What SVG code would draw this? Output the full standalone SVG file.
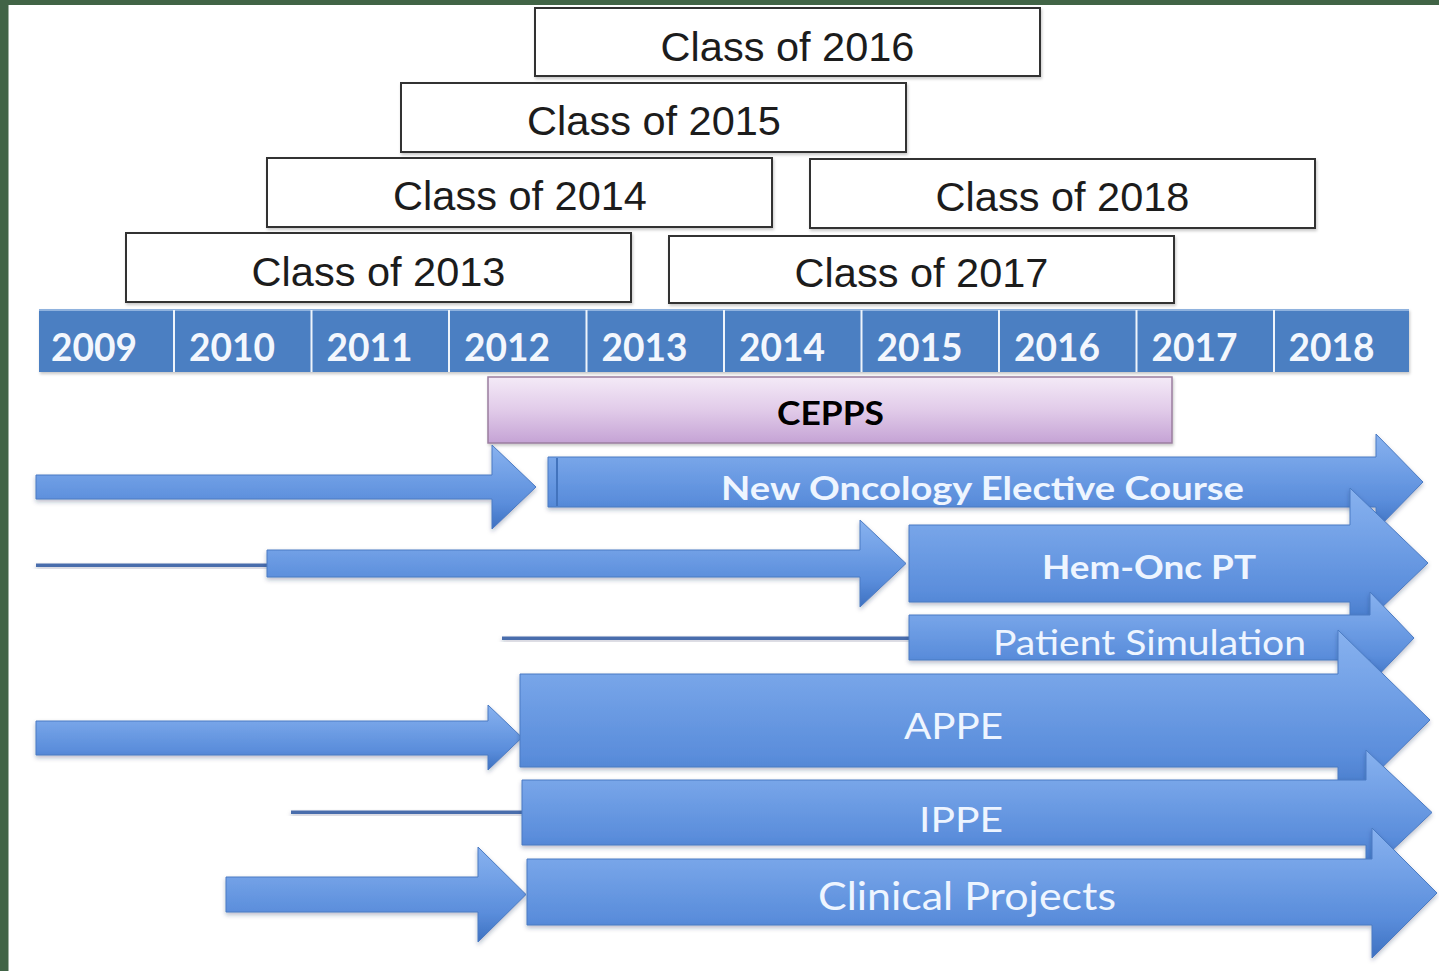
<svg xmlns="http://www.w3.org/2000/svg" width="1439" height="971" viewBox="0 0 1439 971">
<defs>
<linearGradient id="gArrow" x1="0" y1="0" x2="0" y2="1">
<stop offset="0" stop-color="#88b2ef"/>
<stop offset="0.35" stop-color="#71a0e6"/>
<stop offset="0.7" stop-color="#5a8ddb"/>
<stop offset="1" stop-color="#3d71c1"/>
</linearGradient>
<linearGradient id="gCepps" x1="0" y1="0" x2="0" y2="1">
<stop offset="0" stop-color="#f4eaf7"/>
<stop offset="0.5" stop-color="#e1cbe9"/>
<stop offset="1" stop-color="#c5a3d5"/>
</linearGradient>
<filter id="sh1" x="-5%" y="-20%" width="110%" height="150%">
<feDropShadow dx="1" dy="2" stdDeviation="1.5" flood-color="#000" flood-opacity="0.22"/>
</filter>
<filter id="sh2" x="-5%" y="-30%" width="110%" height="170%">
<feDropShadow dx="0" dy="2.5" stdDeviation="2" flood-color="#1b2f55" flood-opacity="0.3"/>
</filter>
<style>
.cls rect{fill:#fff;stroke:#303030;stroke-width:2;filter:url(#sh1)}
.cls text{font-family:"Liberation Sans",Arial,sans-serif;font-size:41.5px;fill:#1c1c1c;text-anchor:middle}
.yr text{font-family:Lato,"Open Sans",sans-serif;font-weight:bold;font-size:38px;fill:#f3f7fd}
.arr{fill:url(#gArrow);stroke:#4a7bc3;stroke-width:1;filter:url(#sh2)}
.thin{fill:#4a6dac;filter:url(#sh2)}
.lbl{font-family:Lato,"Open Sans",sans-serif;fill:#eef5ff}
.b{font-weight:bold}
</style>
</defs>
<rect x="0" y="0" width="1439" height="971" fill="#ffffff"/>
<rect x="0" y="0" width="1439" height="5" fill="#416446"/>
<rect x="0" y="0" width="8.5" height="971" fill="#416446"/>

<g id="class2016" class="cls"><rect x="535" y="8" width="505" height="68"/><text x="787.5" y="61">Class of 2016</text></g>
<g id="class2015" class="cls"><rect x="401" y="83" width="505" height="69"/><text x="654" y="135">Class of 2015</text></g>
<g id="class2014" class="cls"><rect x="267" y="158" width="505" height="69"/><text x="520" y="209.5">Class of 2014</text></g>
<g id="class2018" class="cls"><rect x="810" y="159" width="505" height="69"/><text x="1062.5" y="211">Class of 2018</text></g>
<g id="class2013" class="cls"><rect x="126" y="233" width="505" height="69"/><text x="378.5" y="286">Class of 2013</text></g>
<g id="class2017" class="cls"><rect x="669" y="236" width="505" height="67"/><text x="921.5" y="286.5">Class of 2017</text></g>

<g id="years" class="yr">
<rect x="39" y="309" width="1370" height="63" fill="#4b7fc2" filter="url(#sh1)"/>
<rect x="39" y="309" width="1370" height="2" fill="#8fb2de"/>
<g stroke="#eef4fb" stroke-width="2">
<line x1="174" y1="310" x2="174" y2="372"/><line x1="311.5" y1="310" x2="311.5" y2="372"/><line x1="449" y1="310" x2="449" y2="372"/>
<line x1="586.5" y1="310" x2="586.5" y2="372"/><line x1="724" y1="310" x2="724" y2="372"/><line x1="861.5" y1="310" x2="861.5" y2="372"/>
<line x1="999" y1="310" x2="999" y2="372"/><line x1="1136.5" y1="310" x2="1136.5" y2="372"/><line x1="1274" y1="310" x2="1274" y2="372"/>
</g>
<text x="51" y="361" textLength="86" lengthAdjust="spacingAndGlyphs">2009</text>
<text x="189" y="361" textLength="86" lengthAdjust="spacingAndGlyphs">2010</text>
<text x="326.5" y="361" textLength="86" lengthAdjust="spacingAndGlyphs">2011</text>
<text x="464" y="361" textLength="86" lengthAdjust="spacingAndGlyphs">2012</text>
<text x="601.5" y="361" textLength="86" lengthAdjust="spacingAndGlyphs">2013</text>
<text x="739" y="361" textLength="86" lengthAdjust="spacingAndGlyphs">2014</text>
<text x="876.5" y="361" textLength="86" lengthAdjust="spacingAndGlyphs">2015</text>
<text x="1014" y="361" textLength="86" lengthAdjust="spacingAndGlyphs">2016</text>
<text x="1151.5" y="361" textLength="86" lengthAdjust="spacingAndGlyphs">2017</text>
<text x="1288.5" y="361" textLength="86" lengthAdjust="spacingAndGlyphs">2018</text>
</g>

<g id="cepps">
<rect x="488" y="377" width="684" height="66" fill="url(#gCepps)" stroke="#9a7e9f" stroke-width="1.5" filter="url(#sh1)"/>
<text x="777" y="425" font-family="Lato,'Open Sans',sans-serif" font-weight="bold" font-size="33" fill="#000" textLength="107" lengthAdjust="spacingAndGlyphs">CEPPS</text>
</g>

<g id="connectors">
<polygon class="arr" points="36,475 492,475 492,445 536,487 492,529 492,499 36,499"/>
<rect class="thin" x="36" y="563.5" width="232" height="3.5"/>
<polygon class="arr" points="267,550 860,550 860,520 906,563.5 860,607 860,577 267,577"/>
<rect class="thin" x="502" y="636.5" width="408" height="3.5"/>
<polygon class="arr" points="36,721 488,721 488,705 522,737.5 488,770 488,755 36,755"/>
<rect class="thin" x="291" y="810.5" width="232" height="3.5"/>
<polygon class="arr" points="226,877 478,877 478,847 526,894.5 478,942 478,912 226,912"/>
</g>

<g id="oncology">
<polygon class="arr" points="548,457 1376,457 1376,434 1423,482 1376,530 1376,507 548,507"/>
<line x1="557" y1="458" x2="557" y2="506" stroke="#4273bd" stroke-width="2"/>
<text class="lbl b" x="721" y="500" font-size="32.5" textLength="523" lengthAdjust="spacingAndGlyphs">New Oncology Elective Course</text>
</g>
<g id="hemonc">
<polygon class="arr" points="909,525 1350,525 1350,488 1428,563 1350,638 1350,602 909,602"/>
<text class="lbl b" x="1042" y="579" font-size="33" textLength="214" lengthAdjust="spacingAndGlyphs">Hem-Onc PT</text>
</g>
<g id="patientsim">
<polygon class="arr" points="909,615 1370,615 1370,592 1414,638 1370,684 1370,660 909,660"/>
<text class="lbl" x="993" y="655" font-size="35" textLength="313" lengthAdjust="spacingAndGlyphs">Patient Simulation</text>
</g>
<g id="appe">
<polygon class="arr" points="520,674 1338,674 1338,630 1430,720 1338,811 1338,767 520,767"/>
<text class="lbl" x="904" y="739" font-size="36.5" textLength="99" lengthAdjust="spacingAndGlyphs">APPE</text>
</g>
<g id="ippe">
<polygon class="arr" points="522,780 1366,780 1366,750 1432,812.5 1366,875 1366,845 522,845"/>
<text class="lbl" x="919" y="832" font-size="35" textLength="84" lengthAdjust="spacingAndGlyphs">IPPE</text>
</g>
<g id="clinical">
<polygon class="arr" points="527,859 1372,859 1372,828 1437,893 1372,958 1372,925 527,925"/>
<text class="lbl" x="818" y="910" font-size="39" textLength="298" lengthAdjust="spacingAndGlyphs">Clinical Projects</text>
</g>
</svg>
